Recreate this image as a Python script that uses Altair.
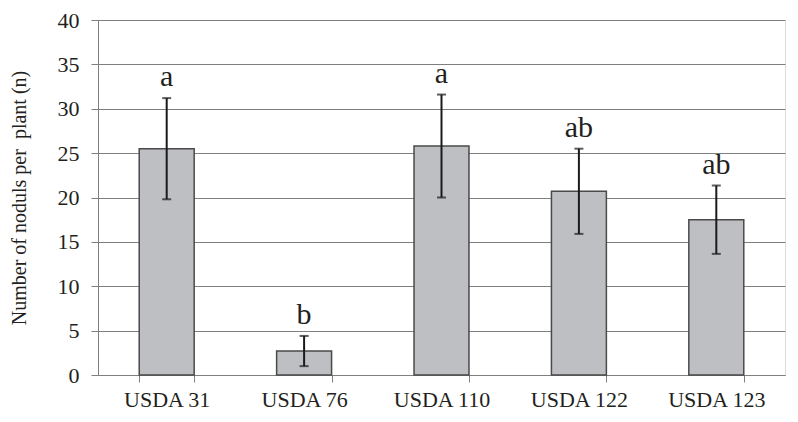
import altair as alt
import pandas as pd

strains = ["USDA 31", "USDA 76", "USDA 110", "USDA 122", "USDA 123"]
means = [25.5, 2.7, 25.8, 20.7, 17.5]
errors = [5.7, 1.7, 5.8, 4.8, 3.85]
letters = ["a", "b", "a", "ab", "ab"]

df = pd.DataFrame({
    "strain": strains,
    "mean": means,
    "lower": [m - e for m, e in zip(means, errors)],
    "upper": [m + e for m, e in zip(means, errors)],
    "letter": letters,
})

FONT = "Liberation Serif"
TXT = "#231F20"

x = alt.X(
    "strain:N",
    sort=strains,
    title=None,
    scale=alt.Scale(paddingInner=0.6, paddingOuter=0.3),
    axis=alt.Axis(
        labelAngle=0, labelFont=FONT, labelFontSize=22, labelColor=TXT,
        tickBand="extent", tickSize=7, tickColor="#808080", domainColor="#808080",
        labelPadding=7, grid=False,
    ),
)

y_axis = alt.Axis(
    values=[0, 5, 10, 15, 20, 25, 30, 35, 40],
    labelFont=FONT, labelFontSize=22, labelColor=TXT, labelPadding=12,
    tickSize=7, tickColor="#808080", domainColor="#808080",
    grid=True, gridColor="#7f7f7f", gridWidth=1,
    title="Number of noduls per\u00a0 plant (n)", titleFont=FONT, titleFontSize=20,
    titleFontWeight="normal", titleColor=TXT,
    titleAngle=270, titleX=-73, titleY=177.5, titleAlign="center",
    titleBaseline="alphabetic",
)

base = alt.Chart(df)

bars = base.mark_bar(color="#BEBFC2", stroke="#4a4a4a", strokeWidth=1.5).encode(
    x=x,
    y=alt.Y("mean:Q", scale=alt.Scale(domain=[0, 40], nice=False), axis=y_axis),
)

err = base.mark_rule(color="#1a1a1a", strokeWidth=2).encode(
    x=alt.X("strain:N", sort=strains), y="lower:Q", y2="upper:Q"
)
cap_hi = base.mark_tick(color="#1a1a1a", thickness=2, size=9).encode(
    x=alt.X("strain:N", sort=strains), y="upper:Q"
)
cap_lo = base.mark_tick(color="#1a1a1a", thickness=2, size=9).encode(
    x=alt.X("strain:N", sort=strains), y="lower:Q"
)
labels = base.mark_text(
    font=FONT, fontSize=30, color=TXT, baseline="alphabetic", dy=-12
).encode(x=alt.X("strain:N", sort=strains), y="upper:Q", text="letter:N")

chart = (
    alt.layer(bars, err, cap_hi, cap_lo, labels)
    .properties(
        width=687, height=355,
        autosize=alt.AutoSizeParams(type="none"),
        padding={"left": 90, "top": 12, "right": 5, "bottom": 39},
    )
    .configure_view(stroke=None)
    .configure(background="white")
)

chart.save("out.html", embed_options={"renderer": "svg", "actions": False})
